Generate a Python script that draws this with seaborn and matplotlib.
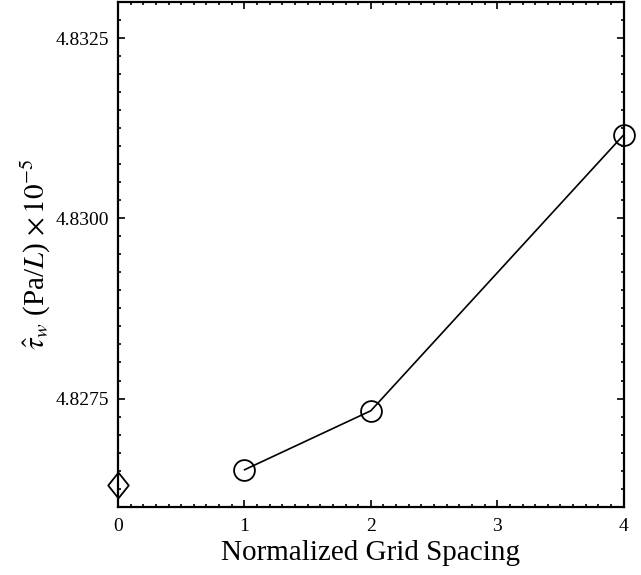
import numpy as np
import pandas as pd
import matplotlib
matplotlib.use('Agg')
import matplotlib.pyplot as plt
from matplotlib.ticker import MultipleLocator, FormatStrFormatter
import seaborn as sns

# dados
grid_spacing = [1, 2, 4]
tau_w = [4.82651, 4.82733, 4.83116]
extrap_spacing = [0]
extrap_tau = [4.82630]

x_ticks = [0, 1, 2, 3, 4]
y_ticks = [4.8275, 4.8300, 4.8325]

sns.set_style('ticks')
plt.rcParams['font.family'] = ['Liberation Serif', 'DejaVu Serif']
plt.rcParams['mathtext.fontset'] = 'stix'
plt.rcParams['text.color'] = 'black'
plt.rcParams['axes.labelcolor'] = 'black'

fig = plt.figure(figsize=(6.41, 5.75), dpi=100)
ax = fig.add_axes([0.184, 0.119, 0.789, 0.877])

df = pd.DataFrame({'h': grid_spacing, 'tau': tau_w})
sns.lineplot(data=df, x='h', y='tau', ax=ax, color='black', linewidth=1.2,
             marker='o', markersize=15, markerfacecolor='none',
             markeredgecolor='black', markeredgewidth=1.3, clip_on=False)

# losango (valor extrapolado)
diamond = [(0, 1), (0.8, 0), (0, -1), (-0.8, 0), (0, 1)]
ax.plot(extrap_spacing, extrap_tau, linestyle='none', marker=diamond,
        markersize=18.5, markerfacecolor='none', markeredgecolor='black',
        markeredgewidth=1.3, clip_on=False, zorder=5)

ax.set_xlim(0, 4)
ax.set_ylim(4.8260, 4.8330)
ax.set_xticks(x_ticks)
ax.set_yticks(y_ticks)
ax.xaxis.set_minor_locator(MultipleLocator(0.1))
ax.yaxis.set_minor_locator(MultipleLocator(0.00025))
ax.yaxis.set_major_formatter(FormatStrFormatter('%.4f'))

ax.tick_params(which='both', direction='in', top=True, right=True,
               width=1.2, labelsize=14, colors='black')
ax.tick_params(which='major', length=5)
ax.tick_params(which='minor', length=2.5)
ax.tick_params(axis='x', pad=8)
ax.tick_params(axis='y', pad=6)
for s in ax.spines.values():
    s.set_linewidth(1.6)
    s.set_color('black')

ax.set_xlabel('Normalized Grid Spacing', fontsize=21, labelpad=4, color='black')
ax.set_ylabel(r'$\hat{\tau}_w$ (Pa/$L$) $\times\,10^{-5}$', fontsize=21,
              labelpad=2, color='black')

plt.savefig('out.png', dpi=100)
